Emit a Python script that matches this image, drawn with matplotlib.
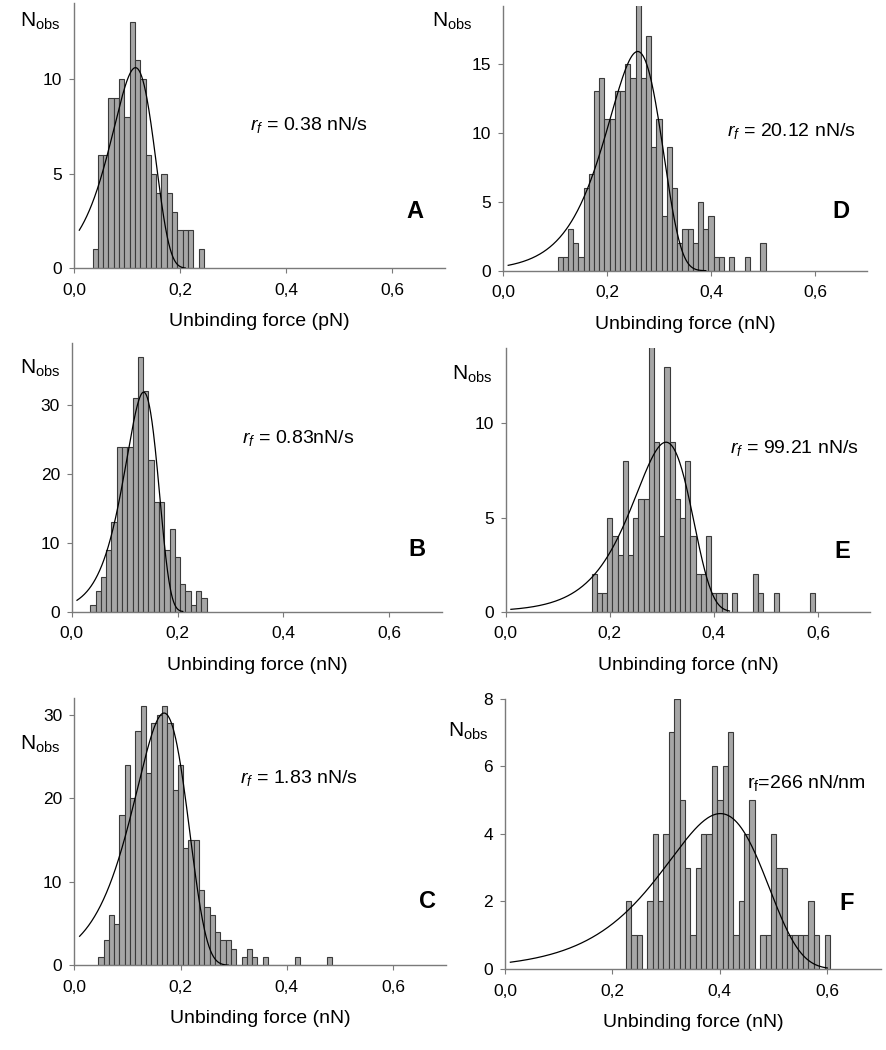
import numpy as np
import matplotlib
matplotlib.use("Agg")
import matplotlib.pyplot as plt

W, H = 887, 1050

plt.rcParams.update({
    "font.family": ["Liberation Sans", "DejaVu Sans"],
    "mathtext.fontset": "custom",
    "mathtext.rm": "Liberation Sans",
    "mathtext.it": "Liberation Sans:italic",
    "mathtext.bf": "Liberation Sans:bold",
})

# histogram counts, one bar per 0.01 nN bin, starting at the given centre
bin_width = 0.01
a_start = 0.04
a_counts = [1, 6, 6, 9, 9, 10, 8, 13, 11, 10, 6, 5, 4, 5, 4, 3, 2, 2, 2, 0, 1]
b_start = 0.04
b_counts = [1, 3, 5, 9, 13, 24, 24, 24, 31, 37, 32, 22, 16, 16, 9, 12, 8, 4, 3, 1, 3, 2]
c_start = 0.05
c_counts = [1, 3, 6, 5, 18, 24, 20, 28, 31, 23, 29, 30, 31, 29, 21, 24, 14, 15, 15, 9,
            7, 6, 4, 3, 3, 2, 0, 1, 2, 1, 0, 1, 0, 0, 0, 0, 0, 1, 0, 0, 0, 0, 0, 1]
d_start = 0.11
d_counts = [1, 1, 3, 2, 1, 6, 7, 13, 14, 11, 11, 13, 13, 15, 14, 20, 14, 17, 9, 11,
            4, 9, 6, 2, 3, 3, 2, 5, 3, 4, 1, 1, 0, 1, 0, 0, 1, 0, 0, 2]
e_start = 0.17
e_counts = [2, 1, 1, 5, 4, 3, 8, 3, 5, 6, 6, 15, 9, 4, 13, 9, 6, 5, 8, 4,
            2, 2, 4, 1, 1, 1, 0, 1, 0, 0, 0, 2, 1, 0, 0, 1, 0, 0, 0, 0, 0, 0, 1]
f_start = 0.23
f_counts = [2, 1, 1, 0, 2, 4, 2, 4, 7, 8, 5, 3, 1, 3, 4, 4, 6, 5, 6, 7,
            1, 2, 4, 5, 0, 1, 1, 4, 3, 3, 1, 1, 1, 1, 2, 1, 0, 1]

# fitted force distributions: peak force, peak height, width, end of drawn curve
fit_peak = [0.116, 0.136, 0.169, 0.259, 0.308, 0.401]
fit_height = [10.6, 31.9, 30.2, 15.9, 9.0, 4.6]
fit_width = [0.041, 0.032, 0.051, 0.053, 0.0566, 0.095]
fit_end = [0.21, 0.21, 0.29, 0.39, 0.43, 0.60]

panel_letters = ["A", "B", "C", "D", "E", "F"]
rate_labels = [r"$r_f$ = 0.38 nN/s", r"$r_f$ = 0.83nN/s", r"$r_f$ = 1.83 nN/s",
               r"$r_f$ = 20.12 nN/s", r"$r_f$ = 99.21 nN/s", r"$\mathregular{r_f}$=266 nN/nm"]
x_labels = ["Unbinding force (pN)", "Unbinding force (nN)", "Unbinding force (nN)",
            "Unbinding force (nN)", "Unbinding force (nN)", "Unbinding force (nN)"]
y_max = [14, 39, 32, 19.2, 14, 8]
y_ticks = [[0, 5, 10], [0, 10, 20, 30], [0, 10, 20, 30],
           [0, 5, 10, 15], [0, 5, 10], [0, 2, 4, 6, 8]]
x_ticks = [0.0, 0.2, 0.4, 0.6]
x_tick_labels = ["0,0", "0,2", "0,4", "0,6"]

starts = [a_start, b_start, c_start, d_start, e_start, f_start]
counts = [a_counts, b_counts, c_counts, d_counts, e_counts, f_counts]

# layout in pixels: axes box (left, top, right, bottom) and text anchors
boxes = [(74, 3.3, 445, 268.3), (71.7, 343.3, 442, 611.7), (74.3, 698, 446, 965.3),
         (503, 6, 867, 270.7), (505.7, 348, 870, 611.7), (505, 698.7, 881, 969)]
nobs_pos = [(20, 21), (20, 368), (20, 744), (432, 21), (452, 374), (448, 731)]
rate_pos = [(250, 125), (242, 438), (240, 778), (727, 131), (730, 448), (747, 783)]
letter_pos = [(415, 212), (417, 550), (428, 902), (841, 212), (842, 552), (847, 903)]

AXIS_GREY = "#7a7a7a"


def fit_curve(x, peak, height, width):
    z = (x - peak) / width
    return height * np.exp(z - np.exp(z) + 1)


fig = plt.figure(figsize=(W / 100, H / 100), dpi=100)

for i in range(6):
    x0, top, x1, bottom = boxes[i]
    ax = fig.add_axes([x0 / W, 1 - bottom / H, (x1 - x0) / W, (bottom - top) / H])

    centres = starts[i] + bin_width * np.arange(len(counts[i]))
    ax.bar(centres, counts[i], width=bin_width, color="#a6a6a6",
           edgecolor="#3a3a3a", linewidth=0.8, zorder=2)

    xs = np.linspace(0.01, fit_end[i], 300)
    ax.plot(xs, fit_curve(xs, fit_peak[i], fit_height[i], fit_width[i]),
            color="black", linewidth=0.9, zorder=3)

    ax.set_xlim(0, 0.7)
    ax.set_ylim(0, y_max[i])
    ax.set_xticks(x_ticks)
    ax.set_xticklabels(x_tick_labels)
    ax.set_yticks(y_ticks[i])
    ax.tick_params(direction="out", length=3.5, width=0.8, color=AXIS_GREY,
                   labelsize=12.5)
    ax.tick_params(axis="x", pad=7)
    ax.tick_params(axis="y", pad=5)
    for side in ("top", "right"):
        ax.spines[side].set_visible(False)
    for side in ("left", "bottom"):
        ax.spines[side].set_color(AXIS_GREY)
        ax.spines[side].set_linewidth(1.0)
    ax.set_xlabel(x_labels[i], fontsize=14, labelpad=11)

    nx, ny = nobs_pos[i]
    fig.text(nx / W, 1 - ny / H, r"$\mathregular{N_{obs}}$", fontsize=15,
             ha="left", va="center")
    rx, ry = rate_pos[i]
    fig.text(rx / W, 1 - ry / H, rate_labels[i], fontsize=14, ha="left", va="center")
    lx, ly = letter_pos[i]
    fig.text(lx / W, 1 - ly / H, panel_letters[i], fontsize=17, fontweight="bold",
             ha="center", va="center")

fig.savefig("out.png", dpi=100)
